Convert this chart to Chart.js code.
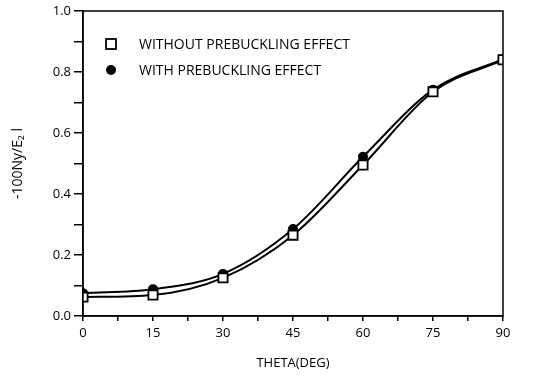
<!DOCTYPE html>
<html>
<head>
<meta charset="utf-8">
<script src="https://cdn.jsdelivr.net/npm/chart.js@4"></script>
<style>
  html, body { margin: 0; padding: 0; background: #fff; }
  #wrap { width: 535px; height: 381px; }
</style>
</head>
<body>
<div id="wrap"><canvas id="chart"></canvas></div>
<script>
const thetaDeg = [0, 15, 30, 45, 60, 75, 90];
const withoutPrebuckling = [0.062, 0.069, 0.125, 0.265, 0.495, 0.735, 0.84];
const withPrebuckling = [0.075, 0.088, 0.138, 0.285, 0.522, 0.742, 0.842];
const xTickLabels = [0, 15, 30, 45, 60, 75, 90];
const yTickLabels = [0.0, 0.2, 0.4, 0.6, 0.8, 1.0];

const FONT = "'Open Sans', sans-serif";

// frame around the plot plus the little legend in the upper left
const framePlugin = {
  id: "frame",
  afterDraw(chart) {
    const { ctx, chartArea: a } = chart;
    ctx.save();
    ctx.strokeStyle = "#000";
    ctx.lineWidth = 1.5;
    ctx.strokeRect(a.left, a.top, a.right - a.left, a.bottom - a.top);

    const items = [
      { text: "WITHOUT PREBUCKLING EFFECT", shape: "rect", y: a.top + 33 },
      { text: "WITH PREBUCKLING EFFECT", shape: "circle", y: a.top + 59 }
    ];
    ctx.font = "14px " + FONT;
    ctx.fillStyle = "#000";
    ctx.textBaseline = "middle";
    items.forEach(it => {
      const cx = a.left + 28;
      ctx.beginPath();
      if (it.shape === "rect") {
        ctx.lineWidth = 1.8;
        ctx.strokeRect(cx - 5, it.y - 5, 10, 10);
      } else {
        ctx.arc(cx, it.y, 5, 0, Math.PI * 2);
        ctx.fill();
      }
      ctx.fillText(it.text, a.left + 56, it.y + 1);
    });
    ctx.restore();
  }
};

new Chart(document.getElementById("chart"), {
  type: "line",
  data: {
    labels: thetaDeg,
    datasets: [
      {
        label: "WITHOUT PREBUCKLING EFFECT",
        data: thetaDeg.map((t, i) => ({ x: t, y: withoutPrebuckling[i] })),
        borderColor: "#000",
        borderWidth: 2,
        cubicInterpolationMode: "monotone",
        pointStyle: "rect",
        pointRadius: 6.5,
        pointBackgroundColor: "#fff",
        pointBorderColor: "#000",
        pointBorderWidth: 1.8
      },
      {
        label: "WITH PREBUCKLING EFFECT",
        data: thetaDeg.map((t, i) => ({ x: t, y: withPrebuckling[i] })),
        borderColor: "#000",
        borderWidth: 2,
        cubicInterpolationMode: "monotone",
        pointStyle: "circle",
        pointRadius: 4,
        pointBackgroundColor: "#000",
        pointBorderColor: "#000"
      }
    ]
  },
  options: {
    responsive: true,
    maintainAspectRatio: false,
    animation: false,
    layout: { padding: { top: 11, right: 32, left: 6, bottom: 0 } },
    plugins: { legend: { display: false }, tooltip: { enabled: false } },
    scales: {
      x: {
        type: "linear",
        min: 0,
        max: 90,
        // labelled every 15 deg, small ticks in between
        afterBuildTicks: s => {
          s.ticks = [];
          for (let v = 0; v <= 90; v += 7.5) s.ticks.push({ value: v });
        },
        ticks: {
          color: "#000", font: { family: FONT, size: 13 }, padding: 4, maxRotation: 0, autoSkip: false,
          callback: v => xTickLabels.includes(v) ? String(v) : ""
        },
        grid: { drawOnChartArea: false, color: "#000", tickLength: 5, lineWidth: 1.5 },
        border: { color: "#000", width: 1.5 },
        title: { display: true, text: "THETA(DEG)", color: "#000", font: { family: FONT, size: 13 }, padding: { top: 4, bottom: 10 } },
        afterFit: s => { s.height = 65; }
      },
      y: {
        min: 0,
        max: 1,
        afterBuildTicks: s => {
          s.ticks = [];
          for (let i = 0; i <= 10; i++) s.ticks.push({ value: i / 10 });
        },
        ticks: {
          color: "#000", font: { family: FONT, size: 13 }, padding: 3, autoSkip: false,
          callback: v => yTickLabels.some(t => Math.abs(t - v) < 1e-6) ? v.toFixed(1) : ""
        },
        grid: { drawOnChartArea: false, color: "#000", tickLength: 9, lineWidth: 1.5 },
        border: { color: "#000", width: 1.5 },
        title: { display: true, text: "-100Ny/E\u2082 l", color: "#000", font: { family: FONT, size: 14 }, padding: { bottom: 4 } },
        afterFit: s => { s.width = 77; }
      }
    }
  },
  plugins: [framePlugin]
});
</script>
</body>
</html>
